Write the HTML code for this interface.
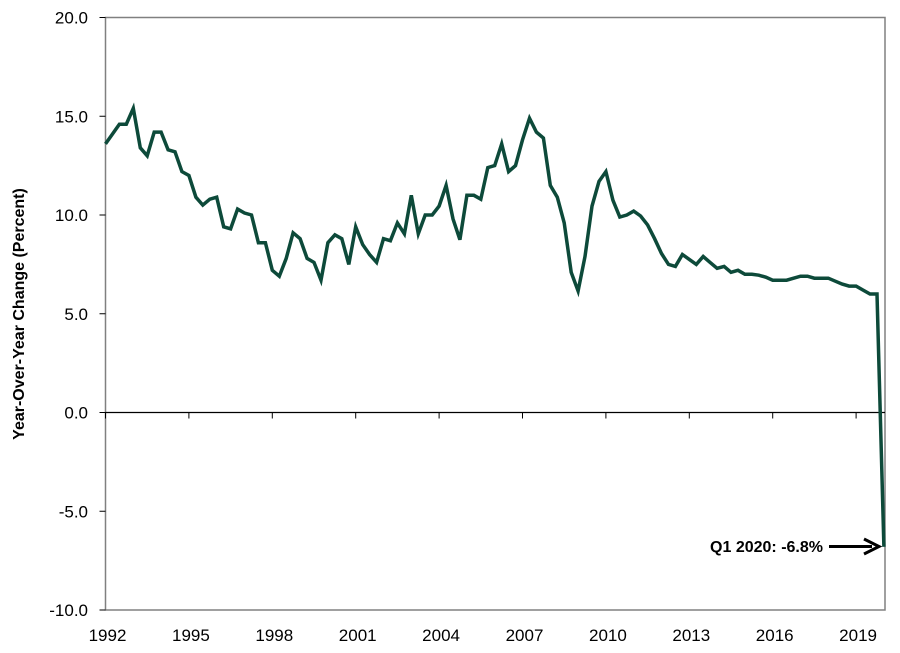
<!DOCTYPE html>
<html><head><meta charset="utf-8"><style>
body{margin:0;background:#fff;}
svg{display:block;font-family:"Liberation Sans",Arial,sans-serif;}
</style></head><body>
<svg width="900" height="653" viewBox="0 0 900 653">
<g id="frame"></g>
<g id="yaxis"></g>
<g id="xaxis"></g>
<g id="series"></g>
<text transform="translate(24,314) rotate(-90)" text-anchor="middle" font-size="16" font-weight="bold">Year-Over-Year Change (Percent)</text>
<g>
<text x="823" y="552" text-anchor="end" font-size="16" font-weight="bold">Q1 2020: -6.8%</text>
<line x1="829" y1="546.5" x2="872" y2="546.5" stroke="#000" stroke-width="3"/>
<path d="M864,539 L879,546.5 L864,554" fill="none" stroke="#000" stroke-width="3"/>
</g>
</svg>
<script>
const values=[13.6,14.1,14.6,14.6,15.4,13.4,13.0,14.2,14.2,13.3,13.2,12.2,12.0,10.9,10.5,10.8,10.9,9.4,9.3,10.3,10.1,10.0,8.6,8.6,7.2,6.9,7.8,9.1,8.8,7.8,7.6,6.7,8.6,9.0,8.8,7.5,9.4,8.5,8.0,7.6,8.8,8.7,
9.6,9.05,11.0,9.05,10.0,10.0,10.45,11.5,9.8,8.75,11.0,11.0,10.8,12.4,12.5,13.6,12.2,12.5,13.8,14.9,14.2,13.9,11.5,10.9,9.6,7.1,6.15,7.9,10.45,11.7,12.2,10.75,9.9,10.0,10.2,9.95,9.5,8.8,8.05,
7.5,7.4,8.0,7.75,7.5,7.9,7.6,7.3,7.4,7.1,7.2,7.0,7.0,6.95,6.85,6.7,6.7,6.7,6.8,6.9,6.9,6.8,6.8,6.8,6.65,6.5,6.4,6.4,6.2,6.0,6.0,-6.8];
const yTicks=[20,15,10,5,0,-5,-10];
const yearLabels=["1992","1995","1998","2001","2004","2007","2010","2013","2016","2019"];
const startYear=1992;
const NS="http://www.w3.org/2000/svg";
const L=105.5,R=885,T=17.5,B=610,YMAX=20,YMIN=-10;
const xStep=6.95;
function xq(i){return L+i*xStep;}
function y(v){return T+(YMAX-v)*(B-T)/(YMAX-YMIN);}
function mk(tag,attrs,parent){const e=document.createElementNS(NS,tag);for(const k in attrs)e.setAttribute(k,attrs[k]);parent.appendChild(e);return e;}
const frame=document.getElementById('frame');
const box=mk('rect',{x:L,y:T,width:R-L,height:B-T,fill:'none',stroke:'#808080','stroke-width':1.5},frame);


const ya=document.getElementById('yaxis');
yTicks.forEach(v=>{
 const t=mk('line',{x1:L-6,x2:L,y1:y(v),y2:y(v),stroke:'#000','stroke-width':1},ya);
 
 
 const tx=mk('text',{x:88,y:y(v)+6,'text-anchor':'end','font-size':17},ya);
 tx.textContent=v.toFixed(1);
 
 
});
const xa=document.getElementById('xaxis');
const zl=mk('line',{x1:L,x2:R,y1:y(0),y2:y(0),stroke:'#000','stroke-width':1.2},xa);


yearLabels.forEach(lbl=>{
 const xx=xq((parseInt(lbl)-startYear)*4);
 const t=mk('line',{x1:xx,x2:xx,y1:y(0),y2:y(0)+6,stroke:'#000','stroke-width':1},xa);
 
 
 const tx=mk('text',{x:xx+2,y:641,'text-anchor':'middle','font-size':17},xa);
 tx.textContent=lbl;
 
 
});
const s=document.getElementById('series');
const p=mk('path',{d:values.map((v,i)=>(i?'L':'M')+xq(i).toFixed(1)+','+y(v).toFixed(1)).join(''),fill:'none',stroke:'#0d4a3a','stroke-width':3.5,'stroke-linejoin':'miter'},s);


</script>
</body></html>
